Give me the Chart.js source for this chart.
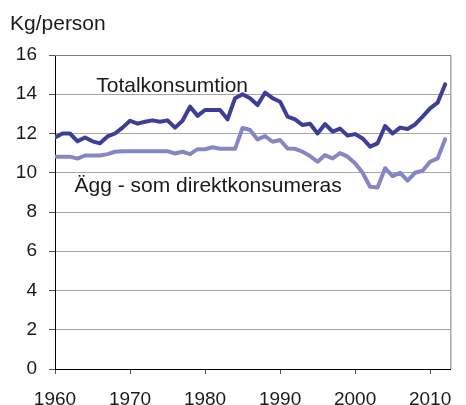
<!DOCTYPE html>
<html>
<head>
<meta charset="utf-8">
<script src="https://cdn.jsdelivr.net/npm/chart.js@4/dist/chart.umd.min.js"></script>
<style>
  html, body { margin: 0; padding: 0; background: #fff; }
  #wrap { width: 466px; height: 405px; }
</style>
</head>
<body>
<div id="wrap"><canvas id="eggChart"></canvas></div>
<script>
// years 1960 - 2012
const years = []
for (let y = 1960; y <= 2012; y++) years.push(y)

const totalLabel = "Totalkonsumtion"
const totalValues = [
  11.8, 12.0, 12.0, 11.6, 11.8, 11.6, 11.5, 11.85, 12.0, 12.3,
  12.65, 12.5, 12.6, 12.67, 12.6, 12.67, 12.3, 12.65, 13.37, 12.9,
  13.2, 13.2, 13.2, 12.72, 13.8, 14.0, 13.8, 13.45, 14.08, 13.8,
  13.62, 12.86, 12.72, 12.43, 12.5, 12.0, 12.48, 12.1, 12.25, 11.89,
  11.97, 11.75, 11.33, 11.5, 12.38, 12.0, 12.3, 12.23, 12.46, 12.86,
  13.28, 13.57, 14.5
]

const eggLabel = "Ägg - som direktkonsumeras"
const eggValues = [
  10.82, 10.82, 10.82, 10.72, 10.88, 10.88, 10.88, 10.95, 11.07, 11.1,
  11.1, 11.1, 11.1, 11.1, 11.1, 11.1, 10.98, 11.07, 10.95, 11.2,
  11.2, 11.3, 11.22, 11.22, 11.22, 12.28, 12.18, 11.7, 11.87, 11.58,
  11.67, 11.24, 11.22, 11.07, 10.85, 10.56, 10.9, 10.73, 11.0, 10.82,
  10.48, 10.0, 9.29, 9.25, 10.23, 9.83, 10.0, 9.6, 10.0, 10.1,
  10.56, 10.73, 11.7
]

const yTicks = [0, 2, 4, 6, 8, 10, 12, 14, 16]
const xTicks = [1960, 1970, 1980, 1990, 2000, 2010]
const unitLabel = "Kg/person"

const FONT = "'Liberation Sans', Arial, sans-serif"

const toPoints = (vals) => vals.map((v, i) => ({ x: years[i], y: v }))

// extra text + frame
const annotate = {
  id: 'annotate',
  beforeDatasetsDraw(chart) {
    const a = chart.chartArea
    const ctx = chart.ctx
    ctx.save()
    ctx.strokeStyle = "#7f7f7f"
    ctx.lineWidth = 1
    ctx.beginPath()
    ctx.moveTo(a.left, a.top + 0.5)
    ctx.lineTo(a.right + 0.5, a.top + 0.5)
    ctx.lineTo(a.right + 0.5, a.bottom)
    ctx.stroke()
    ctx.restore()
  },
  afterDraw(chart) {
    const ctx = chart.ctx
    const xs = chart.scales.x, ys = chart.scales.y
    ctx.save()
    ctx.fillStyle = "#1a1a1a"
    ctx.font = "21px " + FONT
    ctx.textBaseline = "alphabetic"
    ctx.textAlign = "left"
    ctx.fillText(unitLabel, 10, 30)
    ctx.fillText(totalLabel, xs.getPixelForValue(1965.5), ys.getPixelForValue(14.13))
    ctx.fillText(eggLabel, xs.getPixelForValue(1962.6), ys.getPixelForValue(9.03))
    ctx.restore()
  }
}

const CHART = document.getElementById("eggChart")

let eggChart = new Chart(CHART, {
  type: 'line',
  data: {
    datasets: [
      {
        label: totalLabel,
        data: toPoints(totalValues),
        borderColor: "#3c3e98",
        borderWidth: 4,
        pointRadius: 0,
        tension: 0,
        borderJoinStyle: "round",
        borderCapStyle: "round",
        fill: false
      },
      {
        label: eggLabel,
        data: toPoints(eggValues),
        borderColor: "#8587c4",
        borderWidth: 4,
        pointRadius: 0,
        tension: 0,
        borderJoinStyle: "round",
        borderCapStyle: "round",
        fill: false
      }
    ]
  },
  options: {
    responsive: true,
    maintainAspectRatio: false,
    animation: false,
    layout: { padding: { left: 0, right: 15, top: 55, bottom: 0 } },
    plugins: {
      legend: { display: false },
      tooltip: { enabled: false }
    },
    scales: {
      x: {
        type: 'linear',
        min: 1960,
        max: 2012.7,
        afterFit(scale) { scale.height = 36 },
        afterBuildTicks(scale) { scale.ticks = xTicks.map(v => ({ value: v })) },
        grid: { drawOnChartArea: false, drawTicks: true, tickLength: 5, tickColor: "#555" },
        border: { color: "#000", width: 1 },
        ticks: {
          color: "#1a1a1a",
          font: { family: FONT, size: 19 },
          padding: 14,
          maxRotation: 0,
          autoSkip: false,
          callback: (v) => String(v)
        }
      },
      y: {
        min: 0,
        max: 16,
        afterFit(scale) { scale.width = 55 },
        afterBuildTicks(scale) { scale.ticks = yTicks.map(v => ({ value: v })) },
        grid: { color: "#a6a6a6", lineWidth: 1, tickLength: 6, tickColor: "#555" },
        border: { color: "#000", width: 1 },
        ticks: {
          color: "#1a1a1a",
          font: { family: FONT, size: 19 },
          padding: 12
        }
      }
    }
  },
  plugins: [annotate]
})
</script>
</body>
</html>
